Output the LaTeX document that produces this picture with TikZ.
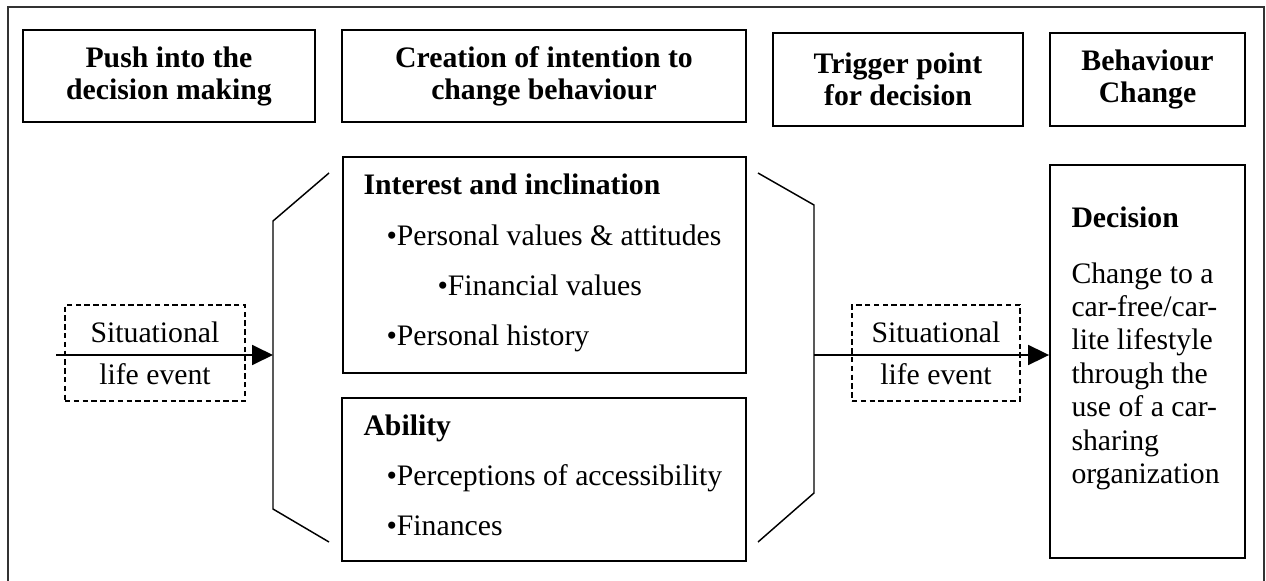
\documentclass[tikz,border=0pt]{standalone}
\usepackage{fontspec}
\setmainfont{Liberation Serif}
\usetikzlibrary{arrows.meta}

\tikzset{every picture/.style={line width=0.75pt}}
\tikzset{
  stagebox/.style={draw, line width=1.4pt, inner sep=0pt, align=center,
    font=\fontsize{22.3}{24}\selectfont\bfseries},
  factorbox/.style={draw, line width=1.4pt, inner sep=0pt},
  eventbox/.style={draw, line width=1.1pt, dash pattern=on 4pt off 2.6pt, inner sep=0pt,
    align=center, font=\fontsize{22.3}{31.5}\selectfont},
  txt/.style={anchor=base west, inner sep=0pt, font=\fontsize{22.3}{25}\selectfont},
  bracket/.style={line width=1.1pt},
  flow/.style={line width=1.4pt, -{Triangle[length=15.75pt, width=15pt]}},
}

\begin{document}
\begin{tikzpicture}[x=0.75pt,y=0.75pt,yscale=-1,xscale=1]
\useasboundingbox (0,0) rectangle (1266,581);

%Outer frame
\draw [color=black!80, line width=1.1pt] (8,581) -- (8,7) -- (1264,7) -- (1264,581) ;

%Stage headers
\node [stagebox, minimum width=219pt, minimum height=69pt] (push) at (169,76) {Push into the\\decision making};
\node [stagebox, minimum width=303pt, minimum height=69pt] (intention) at (544,76) {Creation of intention to\\change behaviour};
\node [stagebox, minimum width=187.5pt, minimum height=69.75pt] (trigger) at (898,79.5) {Trigger point\\for decision};
\node [stagebox, minimum width=146.25pt, minimum height=69.75pt] (change) at (1147.5,79.5) {Behaviour\\Change};

%Factor boxes
\node [factorbox, minimum width=302.25pt, minimum height=162pt] (interest) at (544.5,265) {};
\node [factorbox, minimum width=303pt, minimum height=122.25pt] (ability) at (544,479.5) {};
\node [factorbox, minimum width=146.25pt, minimum height=294.75pt] (decision) at (1147.5,361.5) {};

%Brackets
\draw [bracket] (329,173) -- (273,221) -- (273,509) -- (329,542) ;
\draw [bracket] (758,173) -- (814,205) -- (814,493) -- (758,542) ;
\coordinate (lbr) at (273,355);
\coordinate (rbr) at (814,355);
\coordinate (start) at (56,355);

%Situational life events
\node [eventbox, minimum width=135pt, minimum height=72pt] (event1) at (155,353) {Situational\\ life event};
\node [eventbox, minimum width=126pt, minimum height=72pt] (event2) at (936,353) {Situational\\ life event};

%Arrows
\draw [flow] (start) -- (lbr) ;
\draw [flow] (rbr) -- (rbr -| decision.west) ;

% Text Node
\node [txt] (inttitle) at (363,195) {\bfseries Interest and inclination};
\node [txt] (values) at (386,245) {•Personal values \& attitudes};
\node [txt] (finvalues) at (437,295) {•Financial values};
\node [txt] (history) at (386,345) {•Personal history};
% Text Node
\node [txt] (abtitle) at (363,435) {\bfseries Ability};
\node [txt] (access) at (386,485) {•Perceptions of accessibility};
\node [txt] (finances) at (386,535) {•Finances};
% Text Node
\node [txt] (dectitle) at (1071,227) {\bfseries Decision};
\foreach \t [count=\i] in {Change to a, car-free/car-, lite lifestyle, through the, use of a car-, sharing, organization}
  \node [txt] (dec\i) at (1071,{283+33.4*(\i-1)}) {\t};

\end{tikzpicture}
\end{document}
